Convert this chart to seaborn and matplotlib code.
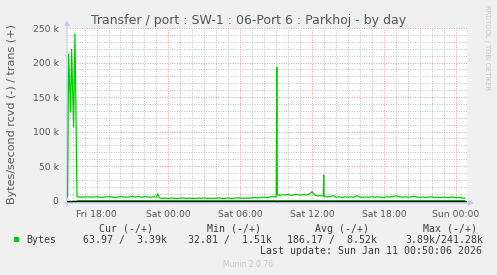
import matplotlib
matplotlib.use("Agg")
import matplotlib.pyplot as plt
import matplotlib.dates as mdates
from matplotlib.patches import Rectangle
import pandas as pd
import seaborn as sns

# ---------------- data (kB/s) ----------------
# opening burst
burst_times = ["2026-01-09 15:35", "2026-01-09 15:40", "2026-01-09 15:50", "2026-01-09 15:55",
               "2026-01-09 16:05", "2026-01-09 16:12", "2026-01-09 16:22"]
burst_k = [5.0, 212, 128, 219, 107, 241.3, 5.5]

# isolated peaks
peak_times = ["2026-01-09 23:06", "2026-01-10 09:03", "2026-01-10 09:06",
              "2026-01-10 12:56", "2026-01-10 12:58"]
peak_k = [9.7, 193, 8.5, 6.8, 37]

# baseline, 15-minute samples per segment
seg_a_start = "2026-01-09 16:30"
seg_a_k = [5.2, 4.8, 5.0, 5.3, 4.9, 5.1, 5.4, 5.0, 4.7, 5.2, 5.5, 5.1, 4.8, 5.0,
           5.6, 5.2, 4.9, 5.3, 5.8, 5.0, 6.2, 4.6, 5.7, 5.1, 4.8, 5.3, 5.0]
seg_b_start = "2026-01-09 23:15"
seg_b_k = [3.8, 3.2, 3.5, 3.0, 3.6, 3.3, 2.9, 3.4, 3.7, 3.1, 3.5, 3.2, 3.0, 3.6,
           3.3, 3.8, 3.1, 3.4, 3.0, 3.5, 3.7, 3.2, 3.3, 3.6, 3.1, 3.4, 3.9, 3.5]
seg_c_start = "2026-01-10 06:15"
seg_c_k = [3.3, 3.6, 3.4, 3.9, 4.2, 3.8, 4.5, 4.9, 4.4, 5.2, 5.6, 5.3]
seg_d_start = "2026-01-10 09:15"
seg_d_k = [7.6, 8.3, 7.9, 8.7, 7.4, 8.1, 8.9, 7.7, 8.4, 8.0, 9.2, 12.8, 7.5, 6.8, 7.0]
seg_e_start = "2026-01-10 13:00"
seg_e_k = [5.8, 5.2, 5.6, 7.0, 4.8, 5.3, 4.6, 5.1, 4.9, 5.4, 4.7, 7.1,
           5.0, 4.6, 5.2, 4.8, 5.5, 4.9, 5.3, 5.0, 4.7, 5.4, 5.1, 5.8,
           6.9, 5.6, 5.0, 5.4, 4.8, 5.2, 6.3, 5.0, 4.7, 5.1, 4.6, 4.9,
           5.3, 4.5, 4.8, 4.4, 4.9, 4.3, 4.6, 5.2, 4.2, 4.5, 3.8, 3.4]

# received (drawn negative)
rcvd_times = ["2026-01-09 15:35", "2026-01-09 15:40", "2026-01-09 15:50", "2026-01-09 15:55",
              "2026-01-09 16:05", "2026-01-09 16:12", "2026-01-09 16:22", "2026-01-09 16:30",
              "2026-01-10 09:00", "2026-01-10 09:03", "2026-01-10 09:06", "2026-01-11 00:45"]
rcvd_k = [-1.6, -3.89, -1.2, -2.4, -1.0, -1.8, -0.6, -0.15, -0.15, -2.3, -0.2, -0.06]

y_ticks = [0, 50000, 100000, 150000, 200000, 250000]
y_tick_labels = ["0", "50 k", "100 k", "150 k", "200 k", "250 k"]

title = "Transfer / port : SW-1 : 06-Port 6 : Parkhoj - by day"
ylabel = "Bytes/second rcvd (-) / trans (+)"
legend_headers = ["Cur (-/+)", "Min (-/+)", "Avg (-/+)", "Max (-/+)"]
legend_name = "Bytes"
legend_values = ["63.97 /  3.39k", "32.81 /  1.51k", "186.17 /  8.52k", "3.89k/241.28k"]
last_update = "Last update: Sun Jan 11 00:50:06 2026"
footer = "Munin 2.0.76"
watermark = "RRDTOOL / TOBI OETIKER"

# ---------------- build frames ----------------
parts = [pd.DataFrame({"time": pd.to_datetime(burst_times), "k": burst_k}),
         pd.DataFrame({"time": pd.to_datetime(peak_times), "k": peak_k})]
for start, vals in [(seg_a_start, seg_a_k), (seg_b_start, seg_b_k), (seg_c_start, seg_c_k),
                    (seg_d_start, seg_d_k), (seg_e_start, seg_e_k)]:
    parts.append(pd.DataFrame({"time": pd.date_range(start, periods=len(vals), freq="15min"),
                               "k": vals}))
trans = pd.concat(parts).sort_values("time").reset_index(drop=True)
trans["bytes"] = trans["k"] * 1000
rcvd = pd.DataFrame({"time": pd.to_datetime(rcvd_times), "bytes": [v * 1000 for v in rcvd_k]})

# ---------------- figure ----------------
sns.set_theme(style="white")
plt.rcParams["font.family"] = ["DejaVu Sans"]

W, H = 497, 275
fig = plt.figure(figsize=(W / 100, H / 100), dpi=100, facecolor="#F0F0F0")
fx = lambda x: x / W
fy = lambda y: 1 - y / H

ax = fig.add_axes([fx(67), fy(203), (467 - 67) / W, (203 - 28) / H])
ax.set_facecolor("white")

GREEN = "#00CC00"
TXT = "#555555"

sns.lineplot(data=rcvd, x="time", y="bytes", ax=ax, color=GREEN, lw=0.9,
             estimator=None, sort=False, legend=False, zorder=3)
sns.lineplot(data=trans, x="time", y="bytes", ax=ax, color=GREEN, lw=0.9,
             estimator=None, sort=False, legend=False, zorder=4)
ax.axhline(0, color="black", lw=0.9, zorder=3.5)

ax.set_xlim(pd.Timestamp("2026-01-09 15:32"), pd.Timestamp("2026-01-11 00:56"))
ax.set_ylim(-3600, 250000)

ax.xaxis.set_major_locator(mdates.HourLocator(byhour=[0, 6, 12, 18]))
ax.xaxis.set_minor_locator(mdates.HourLocator())
ax.xaxis.set_major_formatter(mdates.DateFormatter("%a %H:%M"))
ax.set_yticks(y_ticks)
ax.set_yticklabels(y_tick_labels)
ax.set_yticks(range(0, 250001, 10000), minor=True)

ax.grid(which="minor", color="#BDBDBD", lw=0.7, ls=(0, (1, 1.5)), zorder=1)
ax.grid(which="major", color="#E09A9A", lw=0.7, ls=(0, (1, 1.5)), zorder=1.5)

ax.tick_params(axis="both", which="both", length=0, labelsize=6.7, labelcolor=TXT)
ax.tick_params(axis="x", pad=5)
ax.tick_params(axis="y", pad=6)
ax.set_xlabel("")
ax.set_ylabel("")
for s in ax.spines.values():
    s.set_visible(False)

# axis arrows
arrow_col = "#C4CCF4"
ax.annotate("", xy=(fx(474), fy(203)), xytext=(fx(64), fy(203)), xycoords="figure fraction",
            textcoords="figure fraction",
            arrowprops=dict(arrowstyle="-|>", color=arrow_col, lw=0.9, mutation_scale=7,
                            shrinkA=0, shrinkB=0))
ax.annotate("", xy=(fx(67), fy(20)), xytext=(fx(67), fy(206)), xycoords="figure fraction",
            textcoords="figure fraction",
            arrowprops=dict(arrowstyle="-|>", color=arrow_col, lw=0.9, mutation_scale=7,
                            shrinkA=0, shrinkB=0))

# texts
fig.text(0.5, fy(24), title, ha="center", va="baseline", fontsize=9, color=TXT)
fig.text(fx(12), fy(114), ylabel, rotation=90, ha="center", va="center", fontsize=8, color=TXT)
fig.text(fx(487), fy(5), watermark, rotation=270, ha="center", va="top", fontsize=4.8,
         color="#C4C4C4")

mono = dict(family="DejaVu Sans Mono", fontsize=7.1, color="#3A3A3A", va="baseline")
for hx, htxt in zip([99, 206.7, 315, 422.7], legend_headers):
    fig.text(fx(hx), fy(231.5), htxt, ha="left", **mono)
fig.add_artist(Rectangle((fx(14), fy(241.7)), 5.3 / W, 5 / H, transform=fig.transFigure,
                         facecolor=GREEN, edgecolor="none"))
fig.text(fx(26.7), fy(243), legend_name, ha="left", **mono)
for vx, vtxt in zip([82.7, 188.3, 287.3, 405], legend_values):
    fig.text(fx(vx), fy(243), vtxt, ha="left", **mono)
fig.text(fx(482.3), fy(254.5), last_update, ha="right", **mono)
fig.text(fx(248), fy(267), footer, ha="center", va="baseline", fontsize=5.5, color="#C8C8C8")

fig.savefig("out.png", dpi=100, facecolor=fig.get_facecolor())
